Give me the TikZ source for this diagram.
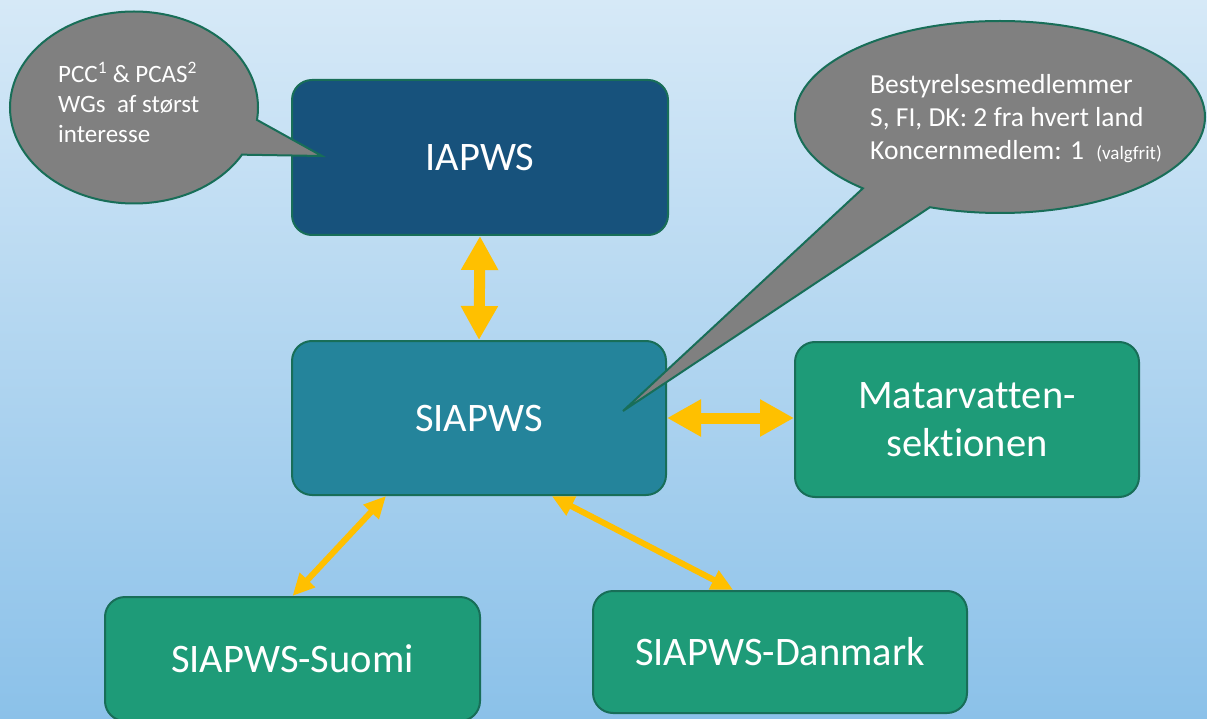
\documentclass[tikz,border=0pt]{standalone}
\usepackage{fontspec}
\setmainfont{Carlito}[Ligatures=NoCommon]
\usetikzlibrary{arrows.meta,shapes.callouts}

\definecolor{bgtop}{RGB}{214,233,247}
\definecolor{bgbottom}{RGB}{139,193,233}
\definecolor{iapwsblue}{RGB}{23,82,124}
\definecolor{siapwsteal}{RGB}{36,132,155}
\definecolor{boxgreen}{RGB}{30,155,120}
\definecolor{edgegreen}{RGB}{24,110,88}
\definecolor{bubblegray}{RGB}{128,128,128}
\definecolor{arrowyellow}{RGB}{255,192,0}

\begin{document}
\begin{tikzpicture}[x=1pt,y=-1pt,
	box/.style={rectangle,rounded corners=20pt,draw=edgegreen,line width=2pt,text=white,inner sep=0pt,font=\fontsize{40.5}{48}\selectfont},
	bubble/.style={ellipse callout,draw=edgegreen,line width=2pt,fill=bubblegray,callout pointer arc=22,inner sep=0pt,text=white},
	bigarrow/.style={draw=arrowyellow,line width=11pt,{Triangle[width=35pt,length=34pt]}-{Triangle[width=35pt,length=34pt]}},
	thinarrow/.style={draw=arrowyellow,line width=6pt,{Triangle[width=20pt,length=22pt]}-{Triangle[width=20pt,length=22pt]}}]

	\shade[top color=bgtop,bottom color=bgbottom] (0,0) rectangle (1207,719);
	\useasboundingbox (0,0) rectangle (1207,719);

	\node[box,fill=iapwsblue,minimum width=376pt,minimum height=155pt] (iapws) at (480,157.5) {IAPWS};
	\node[box,fill=siapwsteal,minimum width=374pt,minimum height=154pt] (siapws) at (479,418) {SIAPWS};
	\node[box,fill=boxgreen,minimum width=344pt,minimum height=155pt,align=center] (matar) at (967,419.5) {Matarvatten-\\sektionen};
	\node[box,fill=boxgreen,minimum width=375pt,minimum height=124pt] (suomi) at (292.5,659) {SIAPWS-Suomi};
	\node[box,fill=boxgreen,minimum width=374pt,minimum height=122pt] (danmark) at (780,652) {SIAPWS-Danmark};

	\draw[bigarrow] (iapws.south) -- (siapws.north);
	\draw[bigarrow] (siapws.east) -- (siapws.east -| matar.west);
	\draw[thinarrow] (siapws.220.6) -- (suomi.north);
	\draw[thinarrow] (siapws.-47.6) -- (danmark.127.4);

	\node[bubble,minimum width=248pt,minimum height=192pt,callout absolute pointer={(322,156)}] (note1) at (134,107.5) {};
	\node[anchor=north west,inner sep=0pt,align=left,text=white,font=\fontsize{25}{30}\selectfont] (note1text) at (58,62)
		{PCC\textsuperscript{1} \& PCAS\textsuperscript{2}\\WGs~ af størst\\interesse};
	\node[bubble,minimum width=410pt,minimum height=192pt,callout absolute pointer={(623,411)}] (note2) at (1000,117) {};
	\node[anchor=north west,inner sep=0pt,align=left,text=white,font=\fontsize{27.5}{33}\selectfont] (note2text) at (870,74)
		{Bestyrelsesmedlemmer\\S, FI, DK: 2 fra hvert land\\Koncernmedlem: 1~ {\fontsize{19}{33}\selectfont (valgfrit)}};
\end{tikzpicture}
\end{document}
